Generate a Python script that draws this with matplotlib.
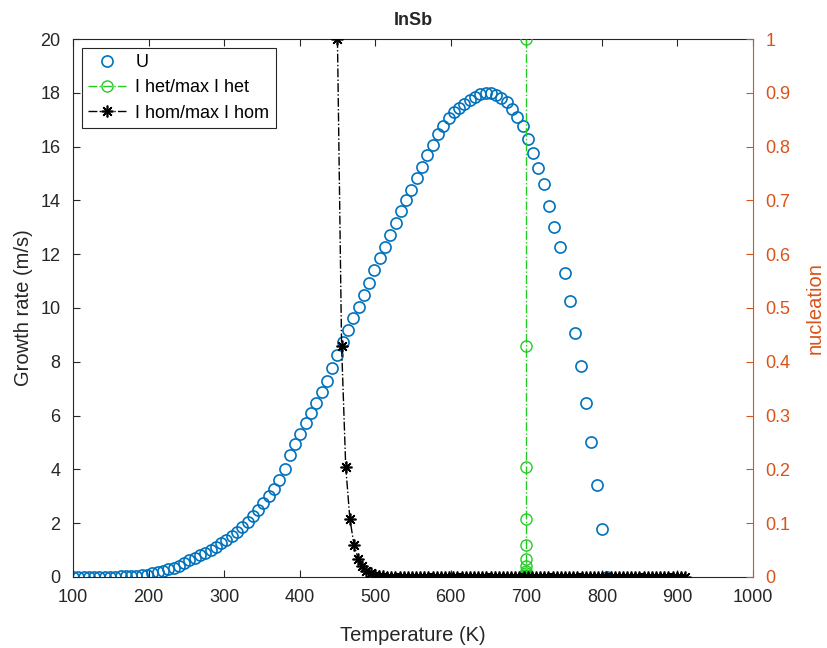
import numpy as np
import matplotlib
matplotlib.use("Agg")
import matplotlib.pyplot as plt
from matplotlib.ticker import FuncFormatter

plt.rcParams['font.family'] = ['Liberation Sans', 'DejaVu Sans']

# ---- data ----
T_growth = np.arange(100, 808, 7)  # 100, 107, ..., 807 K
U = [0.00, 0.00, 0.00, 0.00, 0.00, 0.00, 0.00, 0.01, 0.01, 0.02,
     0.03, 0.04, 0.05, 0.07, 0.09, 0.13, 0.18, 0.23, 0.28, 0.34,
     0.42, 0.52, 0.62, 0.72, 0.82, 0.91, 1.01, 1.12, 1.25, 1.38,
     1.53, 1.68, 1.85, 2.05, 2.27, 2.50, 2.74, 3.00, 3.28, 3.60,
     4.02, 4.53, 4.96, 5.33, 5.71, 6.08, 6.45, 6.88, 7.30, 7.78,
     8.26, 8.73, 9.20, 9.62, 10.03, 10.50, 10.93, 11.40, 11.85, 12.28,
     12.72, 13.15, 13.60, 14.00, 14.40, 14.82, 15.25, 15.70, 16.05, 16.45,
     16.78, 17.05, 17.28, 17.45, 17.60, 17.73, 17.85, 17.94, 17.99, 18.00,
     17.93, 17.80, 17.65, 17.40, 17.10, 16.75, 16.30, 15.78, 15.20, 14.60,
     13.80, 13.00, 12.25, 11.30, 10.25, 9.08, 7.83, 6.47, 5.00, 3.43,
     1.78, 0.00]

T_hom = np.linspace(450, 910, 85)
nuc_lead = [1.0, 0.429, 0.205, 0.108, 0.060, 0.034, 0.020, 0.012, 0.007,
            0.004, 0.002, 0.001]
I_hom = nuc_lead + [0.0] * (len(T_hom) - len(nuc_lead))
T_het_value = 700
I_het = list(I_hom)
T_het = [T_het_value] * len(I_het)

x_ticks = list(range(100, 1001, 100))
y_left_ticks = list(range(0, 21, 2))
y_right_ticks = [i / 10 for i in range(0, 11)]

# ---- styling ----
blue = '#0072BD'
orange = '#D95319'
green = '#22CC22'
dark = '#262626'

fig = plt.figure(figsize=(8.27, 6.48), dpi=100)
ax1 = fig.add_axes([0.0883, 0.1096, 0.8222, 0.8302])
ax2 = ax1.twinx()

l_u, = ax1.plot(T_growth, U, linestyle='none', marker='o', markersize=8,
                markerfacecolor='none', markeredgecolor=blue, markeredgewidth=1.2,
                label='U')
l_het, = ax2.plot(T_het, I_het, linestyle='-.', color=green, linewidth=1.0,
                  marker='o', markersize=8, markerfacecolor='none',
                  markeredgecolor=green, markeredgewidth=1.0,
                  label='I het/max I het')
l_hom, = ax2.plot(T_hom, I_hom, linestyle='-.', color='black', linewidth=1.0,
                  marker=(8, 2, 0), markersize=8.5, markeredgewidth=1.2,
                  markeredgecolor='black', label='I hom/max I hom')

ax1.set_xlim(100, 1000)
ax1.set_ylim(0, 20)
ax2.set_ylim(0, 1)
ax1.set_xticks(x_ticks)
ax1.set_yticks(y_left_ticks)
ax2.set_yticks(y_right_ticks)
ax2.yaxis.set_major_formatter(FuncFormatter(lambda v, p: ('%g' % round(v, 1))))

ax1.tick_params(axis='both', direction='in', length=5, width=0.8, labelsize=13,
                colors=dark, top=True)
ax1.tick_params(axis='x', pad=9)
ax1.tick_params(axis='y', right=False, pad=9)
ax2.tick_params(axis='y', direction='in', length=5, width=0.8, labelsize=13,
                colors=orange, pad=9)

for s in ['left', 'top', 'bottom']:
    ax1.spines[s].set_color(dark)
    ax1.spines[s].set_linewidth(0.8)
ax2.spines['right'].set_color(orange)
ax2.spines['right'].set_linewidth(0.8)
ax2.spines['left'].set_visible(False)
ax2.spines['top'].set_visible(False)
ax2.spines['bottom'].set_visible(False)
ax1.spines['right'].set_visible(False)

ax1.set_xlabel('Temperature (K)', fontsize=14.5, color=dark, labelpad=14)
ax1.set_ylabel('Growth rate (m/s)', fontsize=14.5, color=dark, labelpad=5)
ax2.set_ylabel('nucleation', fontsize=14.5, color=orange, labelpad=11)
ax1.set_title('InSb', fontsize=13, fontweight='bold', color=dark, pad=10)

leg = ax2.legend(handles=[l_u, l_het, l_hom], loc='upper left', fontsize=13,
                 frameon=True, fancybox=False, edgecolor=dark, framealpha=1,
                 borderaxespad=0.5, handlelength=2.1, handletextpad=0.5,
                 labelspacing=0.45, borderpad=0.35)
leg.get_frame().set_linewidth(0.8)

fig.savefig('out.png', dpi=100)
